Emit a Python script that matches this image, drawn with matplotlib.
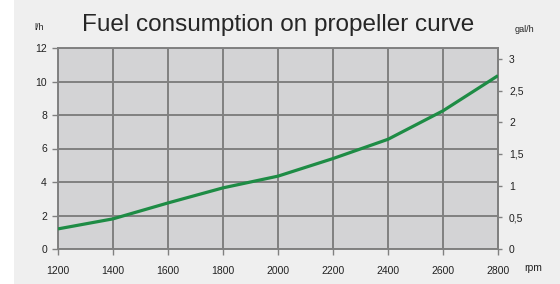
import matplotlib.pyplot as plt
from matplotlib.patches import Rectangle

# Datos
rpm = [1200, 1400, 1600, 1800, 2000, 2200, 2400, 2600, 2800]
consumo_lh = [1.2, 1.8, 2.75, 3.65, 4.35, 5.4, 6.55, 8.25, 10.35]
ticks_lh = [0, 2, 4, 6, 8, 10, 12]
ticks_gal = [0, 0.5, 1, 1.5, 2, 2.5, 3]
etiquetas_gal = ['0', '0,5', '1', '1,5', '2', '2,5', '3']
L_POR_GAL = 3.785

plt.rcParams['font.family'] = ['Liberation Sans', 'DejaVu Sans']

W, H = 560, 284
fig = plt.figure(figsize=(W / 100, H / 100), dpi=100)
fig.patch.set_facecolor('white')
fig.patches.append(Rectangle((14 / W, 0), 1 - 14 / W, 1, transform=fig.transFigure,
                             facecolor='#efefef', edgecolor='none', zorder=-10))

ax = fig.add_axes([58 / W, (H - 249) / H, 440 / W, 201 / H])
ax.set_facecolor('#d3d3d5')
gris = '#808080'

ax.plot(rpm, consumo_lh, color='#1e8c45', linewidth=2.3, zorder=3,
        solid_capstyle='butt', solid_joinstyle='round')

ax.set_xlim(1200, 2800)
ax.set_ylim(0, 12)
ax.set_xticks(rpm)
ax.set_yticks(ticks_lh)
ax.grid(True, color=gris, linewidth=1.4, zorder=1)
ax.set_axisbelow(True)
for s in ax.spines.values():
    s.set_color(gris)
    s.set_linewidth(1.4)
ax.tick_params(axis='both', colors=gris, labelcolor='#222222', labelsize=7.5,
               length=4, width=1, pad=4)
ax.tick_params(axis='x', pad=8)

# Eje secundario en galones por hora
sec = ax.secondary_yaxis('right', functions=(lambda x: x / L_POR_GAL,
                                             lambda x: x * L_POR_GAL))
sec.set_yticks(ticks_gal)
sec.set_yticklabels(etiquetas_gal)
sec.spines['right'].set_color(gris)
sec.spines['right'].set_linewidth(1.4)
sec.tick_params(colors=gris, labelcolor='#222222', labelsize=7.5,
                length=3, width=1, pad=5)

fig.text(278 / W, 1 - 25 / H, 'Fuel consumption on propeller curve',
         ha='center', va='center', fontsize=17.5, color='#262626')
fig.text(39 / W, 1 - 28 / H, 'l/h', ha='center', va='center', fontsize=6.5,
         color='#222222')
fig.text(524 / W, 1 - 29 / H, 'gal/h', ha='center', va='center', fontsize=6.5,
         color='#222222')
fig.text(533 / W, 1 - 268 / H, 'rpm', ha='center', va='center', fontsize=7.5,
         color='#222222')

plt.savefig('out.png', dpi=100)
